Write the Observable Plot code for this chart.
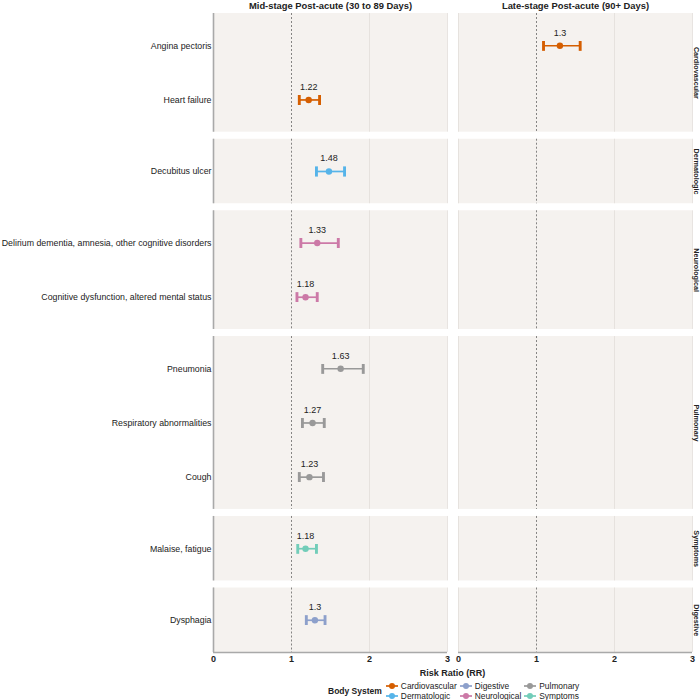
<!DOCTYPE html>
<html><head><meta charset="utf-8">
<script src="https://cdn.jsdelivr.net/npm/d3@7"></script>
<script src="https://cdn.jsdelivr.net/npm/@observablehq/plot@0.6"></script>
<style>
body{margin:0;background:#fff;font-family:"Liberation Sans",Arial,sans-serif;color:#222;}
#wrap{position:relative;width:700px;height:700px;overflow:hidden;}
#chart svg{display:block;}
#xlabel{position:absolute;left:213px;width:479px;top:668px;text-align:center;font-weight:bold;font-size:9px;line-height:11px;}
#legend{position:absolute;top:681px;left:328px;display:flex;align-items:center;font-size:8.4px;}
#legend .title{font-weight:bold;margin-right:4px;font-size:8.5px;}
#legend .grid{display:grid;grid-template-columns:auto auto auto;column-gap:3px;row-gap:0;}
#legend .item{display:flex;align-items:center;line-height:10px;height:10px;}
#legend svg{margin-right:3px;}
</style></head><body>
<div id="wrap"><div id="chart"></div><div id="xlabel">Risk Ratio (RR)</div><div id="legend"></div></div>
<script>
const stages = ["Mid-stage Post-acute (30 to 89 Days)", "Late-stage Post-acute (90+ Days)"];
const groups = ["Cardiovascular","Dermatologic","Neurological","Pulmonary","Symptoms","Digestive"];
const outcomes = ["Angina pectoris","Heart failure","Decubitus ulcer","Delirium dementia, amnesia, other cognitive disorders","Cognitive dysfunction, altered mental status","Pneumonia","Respiratory abnormalities","Cough","Malaise, fatigue","Dysphagia"];
const outcomeGroup = ["Cardiovascular","Cardiovascular","Dermatologic","Neurological","Neurological","Pulmonary","Pulmonary","Pulmonary","Symptoms","Digestive"];
const estOutcome = ["Angina pectoris","Heart failure","Decubitus ulcer","Delirium dementia, amnesia, other cognitive disorders","Cognitive dysfunction, altered mental status","Pneumonia","Respiratory abnormalities","Cough","Malaise, fatigue","Dysphagia"];
const estStage = [1,0,0,0,0,0,0,0,0,0];
const rr = [1.3,1.22,1.48,1.33,1.18,1.63,1.27,1.23,1.18,1.3];
const lo = [1.09,1.10,1.32,1.12,1.07,1.40,1.14,1.10,1.08,1.19];
const hi = [1.56,1.36,1.68,1.60,1.33,1.92,1.42,1.41,1.32,1.43];
const xTicks = [0,1,2,3];
const legendOrder = ["Cardiovascular","Dermatologic","Digestive","Neurological","Pulmonary","Symptoms"];
const legendColors = ["#D55E00","#56B4E9","#8DA0CB","#CC79A7","#999999","#72CDB9"];

// layout of free-height facet rows
const PAD = 0.095, GAP = 0.13;
let cursor = 0;
const groupRows = groups.map(g => {
  const items = outcomes.filter((o, i) => outcomeGroup[i] === g);
  const y1 = cursor, y2 = cursor + items.length + 2 * PAD;
  cursor = y2 + GAP;
  return {group: g, y1, y2, mid: (y1 + y2) / 2, items};
});
const total = cursor - GAP;
const yOf = new Map();
groupRows.forEach(r => r.items.forEach((o, i) => yOf.set(o, r.y1 + PAD + 0.5 + i)));
const labelOf = new Map([...yOf].map(([k, v]) => [v, k]));

const est = estOutcome.map((o, i) => ({
  outcome: o, stage: stages[estStage[i]], group: outcomeGroup[outcomes.indexOf(o)],
  rr: rr[i], lo: lo[i], hi: hi[i], y: yOf.get(o)
}));
const gridRows = d3.cross(groupRows, xTicks.filter(t => t !== 1)).map(([r, x]) => ({x, y1: r.y1, y2: r.y2}));

const chart = Plot.plot({
  width: 700, height: 668, marginTop: 13, marginBottom: 16, marginLeft: 213, marginRight: 8,
  style: {fontFamily: '"Liberation Sans", Arial, sans-serif', fontSize: "8.8px", color: "#222", background: "#fff"},
  fx: {domain: stages, paddingInner: 0.045, paddingOuter: 0, label: null},
  x: {domain: [0, 3]},
  y: {domain: [0, total], reverse: true},
  color: {domain: legendOrder, range: legendColors},
  marks: [
    Plot.rect(groupRows, {x1: 0, x2: 3, y1: "y1", y2: "y2", fill: "#f5f2ef"}),
    Plot.ruleX(gridRows, {x: "x", y1: "y1", y2: "y2", stroke: "#e2ddd9", strokeWidth: 0.8}),
    Plot.ruleX(groupRows, {x: 1, y1: "y1", y2: "y2", stroke: "#555", strokeWidth: 0.7, strokeDasharray: "2,2"}),
    Plot.ruleX(groupRows, {x: 0, y1: "y1", y2: "y2", stroke: "#a9a9a9", strokeWidth: 1.6, fx: () => stages[0]}),
    Plot.ruleY([total], {stroke: "#a9a9a9", strokeWidth: 1.6}),
    Plot.axisX({ticks: xTicks, tickFormat: d => String(d), tickSize: 0, tickPadding: 3, fontWeight: "bold", fontSize: 9, label: null}),
    Plot.axisY({ticks: [...yOf.values()], tickFormat: v => labelOf.get(v), tickSize: 0, tickPadding: 2, label: null}),
    Plot.axisFx({anchor: "top", tickSize: 0, tickPadding: 5, fontWeight: "bold", fontSize: 9.4, label: null}),
    Plot.text(groupRows, {fx: () => stages[1], x: 3, y: "mid", text: "group", rotate: 90, dx: 3.5, fontWeight: "bold", fontSize: 7.2}),
    Plot.link(est, {fx: "stage", x1: "lo", x2: "hi", y1: "y", y2: "y", stroke: "group", strokeWidth: 1.7, markerStart: "tick", markerEnd: "tick"}),
    Plot.dot(est, {fx: "stage", x: "rr", y: "y", fill: "group", r: 3.2}),
    Plot.text(est, {fx: "stage", x: "rr", y: "y", text: d => String(d.rr), dy: -13, fontSize: 9, fill: "#222"})
  ]
});
document.getElementById("chart").appendChild(chart);

// legend
const leg = document.getElementById("legend");
const t = document.createElement("div"); t.className = "title"; t.textContent = "Body System"; leg.appendChild(t);
const grid = document.createElement("div"); grid.className = "grid"; leg.appendChild(grid);
const rows = 2, cols = 3;
for (let r = 0; r < rows; r++) for (let c = 0; c < cols; c++) {
  const i = c * rows + r; if (i >= legendOrder.length) continue;
  const it = document.createElement("div"); it.className = "item";
  it.innerHTML = `<svg width="12" height="8"><line x1="0" x2="12" y1="4" y2="4" stroke="${legendColors[i]}" stroke-width="1.7"/><circle cx="6" cy="4" r="3" fill="${legendColors[i]}"/></svg><span>${legendOrder[i]}</span>`;
  grid.appendChild(it);
}
</script>
</body></html>
